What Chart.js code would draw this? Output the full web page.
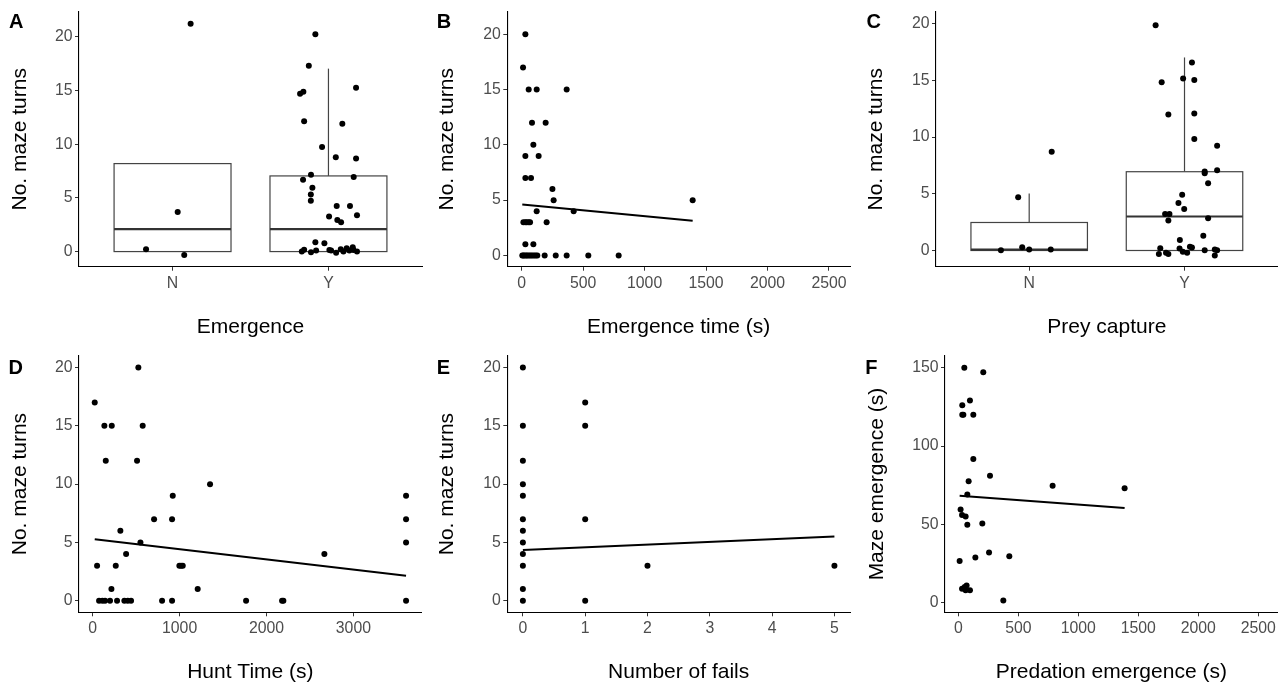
<!DOCTYPE html>
<html>
<head>
<meta charset="utf-8">
<script src="https://cdn.jsdelivr.net/npm/chart.js@4.4.1/dist/chart.umd.min.js"></script>
<style>
  html, body { margin: 0; padding: 0; background: #fff; }
  #fig { position: relative; width: 1284px; height: 688px; overflow: hidden; }
  #fig canvas { position: absolute; }
  .tag { position: absolute; font: bold 20px "Liberation Sans", Arial, sans-serif; line-height: 20px; color: #000; }
</style>
</head>
<body>
<div id="fig">
  <canvas id="panelA"></canvas>
  <canvas id="panelB"></canvas>
  <canvas id="panelC"></canvas>
  <canvas id="panelD"></canvas>
  <canvas id="panelE"></canvas>
  <canvas id="panelF"></canvas>
  <div class="tag" style="left:9px;top:10.7px">A</div>
  <div class="tag" style="left:436.8px;top:10.7px">B</div>
  <div class="tag" style="left:866.4px;top:11.4px">C</div>
  <div class="tag" style="left:8.5px;top:356.7px">D</div>
  <div class="tag" style="left:436.8px;top:357.4px">E</div>
  <div class="tag" style="left:865.2px;top:356.7px">F</div>
</div>
<script>
// ---- data ----

// A: maze turns by emergence (N / Y), jittered points
const yesNo = ['N', 'Y'];
const emergJitter = [1.116, 1.033, 0.830, 1.075,
  1.916, 1.874, 1.818, 1.839, 2.177, 1.844, 2.089, 1.959, 2.047, 2.177,
  1.888, 1.837, 2.162, 1.897, 1.887, 1.887, 2.053, 2.138, 2.004, 2.183,
  2.057, 2.081, 1.916, 1.974,
  1.829, 1.844, 1.888, 1.921, 2.006, 2.017, 2.049, 2.079, 2.096, 2.117, 2.134, 2.156, 2.183, 2.160];
const emergTurns = [21.23, 3.69, 0.22, -0.33,
  20.25, 17.33, 14.7, 14.9, 15.27, 12.14, 11.92, 9.74, 8.79, 8.67,
  7.16, 6.7, 6.95, 5.96, 5.32, 4.74, 4.24, 4.24, 3.26, 3.38,
  2.95, 2.74, 0.87, 0.77,
  0, 0.18, -0.06, 0.09, 0.15, 0.09, -0.1, 0.21, 0, 0.3, 0.09, 0.4, 0, 0.15];
const emergBoxLow = [0, 0];
const emergBoxMed = [2.1, 2.1];
const emergBoxHigh = [8.2, 7.05];
const emergWhiskTop = [8.2, 17.05];

// B: maze turns vs emergence time
const emergTime = [30, 11, 57, 122, 366, 84, 195, 95, 30, 138, 30, 76, 250, 260, 1391, 122, 423,
  14, 30, 41, 57, 68, 203, 30, 95,
  5, 14, 25, 36, 47, 60, 73, 86, 100, 114, 127, 187, 277, 366, 542, 789];
const emergTimeTurns = [20, 17, 15, 15, 15, 12, 12, 10, 9, 9, 7, 7, 6, 5, 5, 4, 4,
  3, 3, 3, 3, 3, 3, 1, 1,
  0, 0, 0, 0, 0, 0, 0, 0, 0, 0, 0, 0, 0, 0, 0, 0];
const emergTimeFitX = [5, 1391];
const emergTimeFitY = [4.6, 3.13];

// C: maze turns by prey capture (N / Y), jittered points
const captureJitter = [1.145, 0.929, 0.818, 0.955, 1.0, 1.139,
  1.814, 2.048, 1.853, 1.991, 2.063, 1.896, 2.063, 2.063, 2.21, 2.13, 2.13, 2.21, 2.152,
  1.985, 1.961, 1.998, 1.875, 1.903, 1.896, 2.152, 1.97, 2.121,
  1.844, 1.835, 1.881, 1.896, 1.968, 1.989, 2.017, 2.035, 2.048, 2.13, 2.195, 2.195, 2.21];
const captureTurns = [8.70, 4.69, 0.03, 0.29, 0.09, 0.09,
  19.88, 16.59, 14.85, 15.17, 15.05, 11.99, 12.08, 9.84, 9.23, 6.96, 6.81, 7.07, 5.94,
  4.92, 4.19, 3.67, 3.23, 3.23, 2.65, 2.85, 0.93, 1.31,
  0.2, -0.32, -0.2, -0.32, 0.17, -0.12, -0.2, 0.32, 0.26, 0.03, 0.09, -0.44, 0.03];
const captureBoxLow = [0, 0];
const captureBoxMed = [0.07, 3.0];
const captureBoxHigh = [2.47, 6.95];
const captureWhiskTop = [5.03, 17.03];

// D: maze turns vs hunt time
const huntTime = [23, 525, 134, 219, 575, 150, 510, 1350, 921, 3606, 706, 913, 3606, 318, 549, 3606,
  384, 2666, 50, 265, 997, 1017, 1036, 215, 1208,
  73, 111, 142, 199, 280, 364, 403, 441, 798, 913, 1765, 2179, 2194, 3606];
const huntTurns = [17, 20, 15, 15, 15, 12, 12, 10, 9, 9, 7, 7, 7, 6, 5, 5,
  4, 4, 3, 3, 3, 3, 3, 1, 1,
  0, 0, 0, 0, 0, 0, 0, 0, 0, 0, 0, 0, 0, 0];
const huntFitX = [23, 3606];
const huntFitY = [5.27, 2.14];

// E: maze turns vs number of fails
const fails = [0, 0, 0, 0, 0, 0, 0, 0, 0, 0, 0, 0, 1, 1, 1, 1, 2, 5];
const failTurns = [20, 15, 12, 10, 9, 7, 6, 5, 4, 3, 1, 0, 17, 15, 7, 0, 3, 3];
const failFitX = [0, 5];
const failFitY = [4.36, 5.5];

// F: maze emergence vs predation emergence
const predEmerg = [50, 208, 97, 33, 33, 42, 125, 125, 264, 86, 786, 1386, 75, 19, 31, 61, 75, 200,
  11, 142, 256, 425, 31, 61, 69, 97, 53, 375];
const mazeEmerg = [150, 147, 129, 126, 120, 120, 120, 91.7, 81, 77.5, 74.6, 73, 69, 59.5, 56, 55, 49.8, 50.6,
  26.7, 28.8, 32, 29.7, 8.9, 8, 11, 8, 10, 1.5];
const predFitX = [11, 1386];
const predFitY = [68.2, 60.4];

// tick labels
const turnTicks = [0, 5, 10, 15, 20];
const catTicks = [1, 2];
const emergTimeTicks = [0, 500, 1000, 1500, 2000, 2500];
const huntTicks = [0, 1000, 2000, 3000];
const failTicks = [0, 1, 2, 3, 4, 5];
const mazeEmergTicks = [0, 50, 100, 150];

// ---- drawing ----
const FONT = '"Liberation Sans", Arial, sans-serif';
const tickFont = { family: FONT, size: 15.8 };
const titleFont = { family: FONT, size: 21 };

// draws boxes (ggplot style) from the box arrays through the chart scales
const boxPlugin = {
  id: 'boxes',
  beforeDatasetsDraw(chart, args, opts) {
    if (!opts || !opts.low) return;
    const { ctx, scales: { x, y } } = chart;
    ctx.save();
    opts.low.forEach((lo, i) => {
      const c = i + 1;
      const x0 = x.getPixelForValue(c - 0.375);
      const x1 = x.getPixelForValue(c + 0.375);
      const xc = x.getPixelForValue(c);
      const yLo = y.getPixelForValue(lo);
      const yHi = y.getPixelForValue(opts.high[i]);
      ctx.strokeStyle = '#444';
      ctx.lineWidth = 1.2;
      if (opts.whisk[i] > opts.high[i]) {
        ctx.beginPath();
        ctx.moveTo(xc, yHi);
        ctx.lineTo(xc, y.getPixelForValue(opts.whisk[i]));
        ctx.stroke();
      }
      ctx.fillStyle = '#fff';
      ctx.fillRect(x0, yHi, x1 - x0, yLo - yHi);
      ctx.strokeRect(x0, yHi, x1 - x0, yLo - yHi);
      ctx.strokeStyle = '#333';
      ctx.lineWidth = 2.2;
      const ym = y.getPixelForValue(opts.med[i]);
      ctx.beginPath();
      ctx.moveTo(x0, ym);
      ctx.lineTo(x1, ym);
      ctx.stroke();
    });
    ctx.restore();
  }
};

function pairs(xs, ys) {
  return xs.map((v, i) => ({ x: v, y: ys[i] }));
}

function axis(o) {
  return {
    type: 'linear',
    min: o.min,
    max: o.max,
    afterBuildTicks: s => { s.ticks = o.ticks.map(v => ({ value: v })); },
    afterFit: o.fit,
    ticks: {
      color: '#4d4d4d',
      font: tickFont,
      padding: o.pad,
      autoSkip: false,
      maxRotation: 0,
      callback: o.labels ? (v => o.labels[v - 1]) : (v => String(v))
    },
    grid: { display: true, drawOnChartArea: false, drawTicks: true, tickLength: 4, tickColor: '#333', tickWidth: 1 },
    border: { display: true, color: '#000', width: 1.1 },
    title: { display: true, text: o.title, color: '#000', font: titleFont, padding: o.titlePad }
  };
}

function makePanel(p) {
  const cv = document.getElementById(p.id);
  cv.width = p.cw; cv.height = p.ch;
  cv.style.left = p.cx + 'px'; cv.style.top = p.cy + 'px';
  cv.style.width = p.cw + 'px'; cv.style.height = p.ch + 'px';
  const lh = 21 * 1.2;
  const datasets = [{
    data: pairs(p.px, p.py),
    pointRadius: 3,
    pointBackgroundColor: '#000',
    pointBorderWidth: 0,
    order: 2
  }];
  if (p.fitX) {
    datasets.push({
      type: 'line',
      data: pairs(p.fitX, p.fitY),
      borderColor: '#000',
      borderWidth: 2,
      pointRadius: 0,
      fill: false,
      order: 1
    });
  }
  new Chart(cv, {
    type: 'scatter',
    data: { datasets },
    plugins: [boxPlugin],
    options: {
      responsive: false,
      animation: false,
      devicePixelRatio: 1,
      layout: { padding: { left: 0, top: p.t - p.cy, right: p.cx + p.cw - p.r, bottom: 0 } },
      plugins: {
        legend: { display: false },
        tooltip: { enabled: false },
        boxes: p.box || {}
      },
      scales: {
        x: axis({
          min: p.xMin, max: p.xMax, ticks: p.xTicks, labels: p.xLabels, pad: 3,
          title: p.xTitle,
          titlePad: { top: 0, bottom: p.cy + p.ch - p.xTitleY - lh / 2 },
          fit: s => { s.height = p.cy + p.ch - p.b; }
        }),
        y: axis({
          min: p.yMin, max: p.yMax, ticks: p.yTicks, pad: 2.4,
          title: p.yTitle,
          titlePad: { top: p.yTitleX - p.cx - lh / 2, bottom: 0 },
          fit: s => { s.width = p.l - p.cx; }
        })
      }
    }
  });
}

makePanel({
  id: 'panelA', cx: 0, cy: 0, cw: 428, ch: 344, l: 79, t: 9.3, r: 422, b: 266.7,
  px: emergJitter, py: emergTurns,
  box: { low: emergBoxLow, med: emergBoxMed, high: emergBoxHigh, whisk: emergWhiskTop },
  xMin: 0.4, xMax: 2.6, xTicks: catTicks, xLabels: yesNo, xTitle: 'Emergence', xTitleY: 327,
  yMin: -1.41, yMax: 22.34, yTicks: turnTicks, yTitle: 'No. maze turns', yTitleX: 20.3
});

makePanel({
  id: 'panelB', cx: 428, cy: 0, cw: 428, ch: 344, l: 507.3, t: 9.3, r: 850, b: 266.7,
  px: emergTime, py: emergTimeTurns, fitX: emergTimeFitX, fitY: emergTimeFitY,
  xMin: -117, xMax: 2671, xTicks: emergTimeTicks, xTitle: 'Emergence time (s)', xTitleY: 327,
  yMin: -1.02, yMax: 22.03, yTicks: turnTicks, yTitle: 'No. maze turns', yTitleX: 447.5
});

makePanel({
  id: 'panelC', cx: 856, cy: 0, cw: 428, ch: 344, l: 936, t: 9.3, r: 1277.7, b: 266.7,
  px: captureJitter, py: captureTurns,
  box: { low: captureBoxLow, med: captureBoxMed, high: captureBoxHigh, whisk: captureWhiskTop },
  xMin: 0.4, xMax: 2.6, xTicks: catTicks, xLabels: yesNo, xTitle: 'Prey capture', xTitleY: 327,
  yMin: -1.43, yMax: 21.05, yTicks: turnTicks, yTitle: 'No. maze turns', yTitleX: 875.8
});

makePanel({
  id: 'panelD', cx: 0, cy: 344, cw: 428, ch: 344, l: 79, t: 355, r: 421.7, b: 612.3,
  px: huntTime, py: huntTurns, fitX: huntFitX, fitY: huntFitY,
  xMin: -158, xMax: 3786, xTicks: huntTicks, xTitle: 'Hunt Time (s)', xTitleY: 671.8,
  yMin: -0.99, yMax: 21.0, yTicks: turnTicks, yTitle: 'No. maze turns', yTitleX: 20.3
});

makePanel({
  id: 'panelE', cx: 428, cy: 344, cw: 428, ch: 344, l: 507.3, t: 355, r: 850, b: 612.3,
  px: fails, py: failTurns, fitX: failFitX, fitY: failFitY,
  xMin: -0.25, xMax: 5.25, xTicks: failTicks, xTitle: 'Number of fails', xTitleY: 671.8,
  yMin: -0.99, yMax: 21.0, yTicks: turnTicks, yTitle: 'No. maze turns', yTitleX: 447.5
});

makePanel({
  id: 'panelF', cx: 856, cy: 344, cw: 428, ch: 344, l: 945, t: 355, r: 1277.7, b: 612.3,
  px: predEmerg, py: mazeEmerg, fitX: predFitX, fitY: predFitY,
  xMin: -111, xMax: 2662, xTicks: emergTimeTicks, xTitle: 'Predation emergence (s)', xTitleY: 671.8,
  yMin: -6.1, yMax: 157.5, yTicks: mazeEmergTicks, yTitle: 'Maze emergence (s)', yTitleX: 877
});
</script>
</body>
</html>
